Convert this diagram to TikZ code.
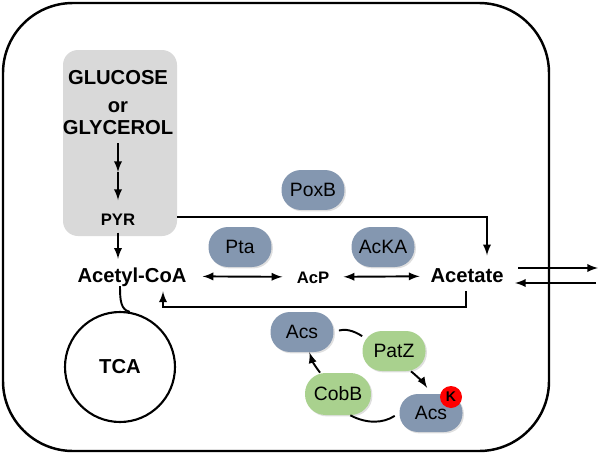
\documentclass[tikz,border=0pt]{standalone}
\usepackage{fontspec}
\setmainfont{Liberation Sans}
\usepackage{tikz}
\usetikzlibrary{positioning,shapes,shadows,arrows}
\definecolor{enzblue}{HTML}{8497B0}
\definecolor{enzgreen}{HTML}{A9D18E}
\definecolor{boxgray}{HTML}{D9D9D9}

\begin{document}
\begin{tikzpicture}[x=0.02cm,y=-0.02cm,>=latex,
  met/.style={font=\bfseries\fontsize{11.5}{13}\selectfont, text height=0.72em, text depth=0pt, inner sep=2pt},
  metsm/.style={met, font=\bfseries\fontsize{9.5}{11}\selectfont},
  enz/.style={rectangle, rounded corners=0.39cm, fill=enzblue, minimum width=1.26cm, minimum height=0.8cm,
    font=\fontsize{11}{13}\selectfont, drop shadow={opacity=0.25, shadow xshift=0.8pt, shadow yshift=-0.8pt}},
  enzg/.style={enz, fill=enzgreen},
  arr/.style={->, line width=1.1pt}]
\useasboundingbox (0,0) rectangle (598,453);
% cell
\draw [line width = 1.4pt, rounded corners=1.4cm] (3,3) rectangle (549,451) ;
\fill [boxgray, rounded corners=0.3cm] (63,50) rectangle (177,236) ;

\node[met] (glu) at (118,78) {GLUCOSE};
\node[met] (or) at (118,106) {or};
\node[met] (gly) at (118,128) {GLYCEROL};
\node[metsm] (pyr) at (118,219) {PYR};
\node[met] (acoa) at (132,276) {Acetyl-CoA};
\node[metsm] (acp) at (313,277) {AcP};
\node[met] (ac) at (467,276) {Acetate};
\node[circle, draw, line width=1.2pt, minimum size=2.2cm, font=\bfseries\fontsize{11.5}{13}\selectfont] (tca) at (120,367) {TCA};

\node[enz] (poxb) at (313,190) {PoxB};
\node[enz] (pta) at (240,247) {Pta};
\node[enz] (acka) at (383,247) {AcKA};

\coordinate (half) at (118,172);
\coordinate (pyrout) at (177,217);
\coordinate (back) at (163,307);
\coordinate (exin) at (518,268);
\coordinate (exout) at (598,268);
\coordinate (imin) at (515,283);
\coordinate (imout) at (596,283);

\draw [arr, shorten <=3pt] (gly) -- (half) ;
\draw [arr, shorten >=5pt] (half) -- (pyr) ;
\draw [arr, shorten <=2pt, shorten >=4pt] (pyr.south) -- (pyr.south |- acoa.north) ;
\draw [arr, <->, shorten <=7pt, shorten >=6pt] (acoa) -- (acp) ;
\draw [arr, <->, shorten <=6pt, shorten >=4pt] (acp) -- (ac) ;
\draw [arr, shorten >=6pt] (pyrout) -| ([xshift=0.4cm]ac.north) ;
\draw [arr, shorten <=3pt, shorten >=3pt] ([xshift=-0.02cm]ac.south) |- (back) -- (back |- acoa.south) ;
\draw [line width = 1.1pt] ([xshift=-0.24cm]acoa.south) .. controls +(0,14) and +(-9,-2) .. (tca.80) ;
\draw [arr] (exin) -- (exout) ;
\draw [arr] (imout) -- (imin) ;

% acetylation cycle
\node[enz] (acs) at (302,332) {Acs};
\node[enzg] (patz) at (394,351) {PatZ};
\node[enzg, minimum width=1.32cm, minimum height=0.84cm, rounded corners=0.41cm] (cobb) at (338,394) {CobB};
\node[enz, minimum height=0.76cm, rounded corners=0.37cm] (acsk) at (431,413) {Acs};
\node[circle, fill=red, minimum size=0.44cm, inner sep=0pt, font=\bfseries\fontsize{8}{9}\selectfont] (lys) at (451,397) {K};

\draw [line width = 1.1pt, shorten <=3pt] (acs.east) to[bend left=25] (patz.155) ;
\draw [arr, shorten >=4pt] (patz.-50) to[bend left=8] (acsk.north) ;
\draw [line width = 1.1pt, shorten <=3pt] (acsk.west) to[bend left=30] (cobb.-60) ;
\draw [arr] (cobb.130) to[bend left=10] (acs.-70) ;
\end{tikzpicture}
\end{document}
